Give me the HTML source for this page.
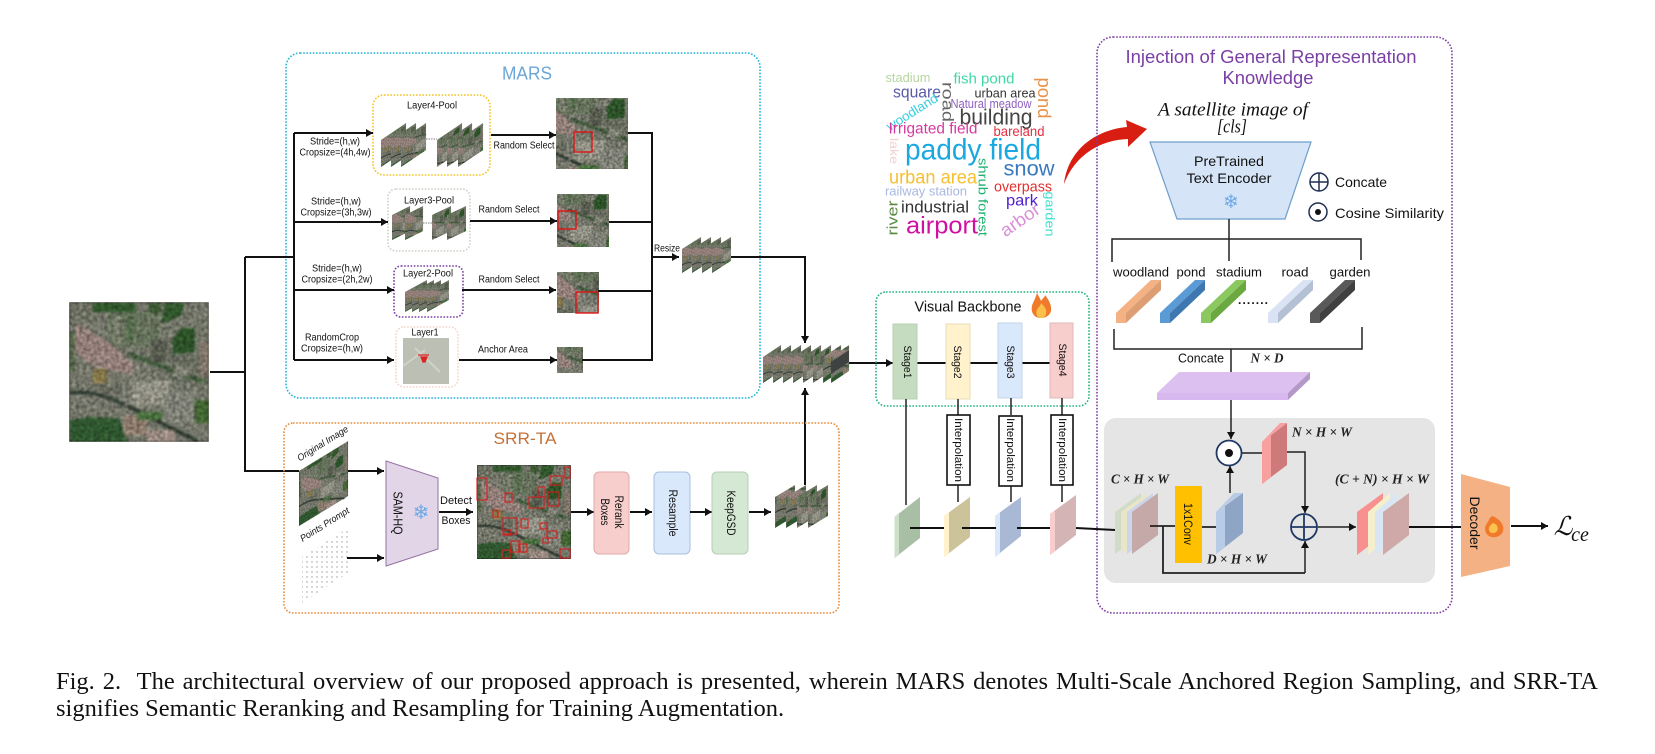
<!DOCTYPE html>
<html><head><meta charset="utf-8">
<style>
html,body{margin:0;padding:0;background:#fff;width:1655px;height:754px;overflow:hidden}
svg{position:absolute;left:0;top:0}
text{font-family:"Liberation Sans",sans-serif;text-anchor:middle;dominant-baseline:central;fill:#111}
.m{font-family:"Liberation Serif",serif;font-style:italic;font-weight:bold;fill:#222}
.l{stroke:#111;stroke-width:2;fill:none}
.t{stroke:#222;stroke-width:1.5;fill:none}
.d{fill:none;stroke-width:1.6;stroke-dasharray:1.6 1.6}
.a{marker-end:url(#a)}
#cap{position:absolute;left:56px;top:668px;width:1542px;font:24.5px/27px "Liberation Serif",serif;color:#111}
#cap div{white-space:nowrap}
#cap .j{white-space:normal;text-align:justify;text-align-last:justify}
</style></head><body>
<svg width="1655" height="754" viewBox="0 0 1655 754" xmlns="http://www.w3.org/2000/svg">
<defs>
<marker id="a" markerWidth="8" markerHeight="9" refX="7" refY="4" orient="auto" markerUnits="userSpaceOnUse"><path d="M0 0L7 4L0 8z" fill="#111"/></marker>
<filter id="n" x="0" y="0" width="1" height="1" color-interpolation-filters="sRGB"><feGaussianBlur stdDeviation="1" result="b"/><feTurbulence type="fractalNoise" baseFrequency=".28" numOctaves="2" seed="4"/><feColorMatrix type="matrix" values=".45 0 0 0 .23 .45 0 0 0 .23 .45 0 0 0 .23 0 0 0 0 1" result="t"/><feComposite in="b" in2="t" operator="arithmetic" k1="2" k2="0" k3="0" k4="0"/><feGaussianBlur stdDeviation=".45"/></filter>
<g id="s"><g filter="url(#n)">
<rect width="140" height="140" fill="#7f8274"/>
<rect x="40" y="10" width="50" height="35" fill="#6f7c64"/>
<rect x="100" y="50" width="40" height="30" fill="#737869"/>
<rect x="0" y="90" width="55" height="30" fill="#7f8174"/>
<rect x="63" y="79" width="38" height="24" fill="#a09f92"/>
<rect x="95" y="90" width="30" height="30" fill="#8b8d82"/>
<polygon points="8,21 44,43 66,64 63,73 24,64 4,49" fill="#a08a84"/>
<polygon points="0,0 24,0 30,20 8,20 0,30" fill="#787c6c"/>
<rect x="24" y="1" width="43" height="9" fill="#355f30"/>
<rect x="80" y="1" width="12" height="10" fill="#3f6035"/>
<polygon points="96,1 116,1 112,14 92,22" fill="#355f30"/>
<polygon points="112,26 126,26 126,50 104,52 103,38" fill="#315a2c"/>
<polygon points="1,118 20,115 50,116 58,140 1,140" fill="#345f34"/>
<rect x="126" y="98" width="14" height="23" fill="#4a7038"/>
<path d="M1 91C25 88 40 95 60 105L130 140" stroke="#2e3a30" stroke-width="3.5" fill="none"/>
<path d="M60 52L135 80" stroke="#4a6444" stroke-width="5" fill="none"/>
<path d="M68 60L55 110" stroke="#8a8a80" stroke-width="2.5" fill="none"/>
<rect x="55" y="113" width="23" height="20" fill="#9c8878"/>
<rect x="78" y="128" width="28" height="12" fill="#a8968c"/>
<rect x="24" y="67" width="14" height="14" fill="#8f7f4e"/>
<rect x="82" y="38" width="16" height="22" fill="#5f6355"/>
<rect x="130" y="40" width="10" height="35" fill="#8c8073"/>
<rect x="68" y="110" width="25" height="8" fill="#4f7a44"/>
<rect x="30" y="85" width="22" height="4" fill="#666a5c"/>
<rect x="105" y="65" width="16" height="9" fill="#8c8d80"/>
<rect x="0" y="30" width="6" height="40" fill="#5e7050"/>
<rect x="45" y="14" width="6" height="28" fill="#8c8f7e"/>
<rect x="58" y="14" width="6" height="24" fill="#5a7450"/>
</g></g>
<svg id="c1" width="140" height="140" viewBox="10 30 90 90" preserveAspectRatio="none"><use href="#s"/></svg>
<svg id="c2" width="140" height="140" viewBox="45 20 90 90" preserveAspectRatio="none"><use href="#s"/></svg>
<svg id="c3" width="140" height="140" viewBox="0 50 80 80" preserveAspectRatio="none"><use href="#s"/></svg>
<pattern id="dots" width="5" height="5" patternUnits="userSpaceOnUse"><circle cx="2" cy="2" r=".7" fill="#999"/></pattern>
<g id="flame"><path d="M0 25C-9 25-11 16-8 10C-6 6-5 3-4 0C-2 4-1 5 0 8C2 5 4 4 4 2C8 7 11 13 10 18C9 22 5 25 0 25Z" fill="#ee7a2a"/><path d="M0 25C-5 25-6 19-3 15C-1 13 0 11 0 10C3 13 6 16 5 20C5 23 3 25 0 25Z" fill="#fbc04a"/></g>
<g id="fl2"><path d="M-2-10C4-8 11-2 9 5C8 10 0 13-5 10C-10 7-10 0-6-4C-5-7-4-8-2-10Z" fill="#f0792a"/><path d="M-1-3C3-2 5 2 3 5C1 8-4 8-5 4C-6 1-3-1-1-3Z" fill="#fcc24f"/></g>
</defs>

<!-- MARS box -->
<rect x="286" y="53" width="474" height="345" rx="14" class="d" stroke="#22b3d6"/>
<text x="527" y="73" font-size="18.5" style="fill:#6ba6d6" textLength="50" lengthAdjust="spacingAndGlyphs">MARS</text>

<rect x="373" y="95" width="117" height="80" rx="11" class="d" stroke="#f3c423"/>
<text x="432" y="106" font-size="10" textLength="50" lengthAdjust="spacingAndGlyphs">Layer4-Pool</text>
<rect x="388" y="189" width="82" height="62" rx="8" class="d" stroke="#cfd2c4"/>
<text x="429" y="201" font-size="10" textLength="50" lengthAdjust="spacingAndGlyphs">Layer3-Pool</text>
<rect x="394" y="266" width="69" height="51" rx="7" class="d" stroke="#7b3fa0"/>
<text x="428" y="274" font-size="10" textLength="50" lengthAdjust="spacingAndGlyphs">Layer2-Pool</text>
<rect x="396" y="327" width="62" height="60" rx="8" class="d" stroke="#f2d6c8"/>
<text x="425" y="333" font-size="10" textLength="27" lengthAdjust="spacingAndGlyphs">Layer1</text>

<!-- Tree lines -->
<path d="M210 372H245M245 257V471H299M245 257H294M294 133V360" class="l"/>
<path d="M294 133H373" class="l a"/><path d="M294 222H388" class="l a"/><path d="M294 290H394" class="l a"/><path d="M294 360H394" class="l a"/>
<text x="335" y="142" font-size="10" textLength="50" lengthAdjust="spacingAndGlyphs">Stride=(h,w)</text>
<text x="335" y="153" font-size="10" textLength="71" lengthAdjust="spacingAndGlyphs">Cropsize=(4h,4w)</text>
<text x="336" y="202" font-size="10" textLength="50" lengthAdjust="spacingAndGlyphs">Stride=(h,w)</text>
<text x="336" y="213" font-size="10" textLength="71" lengthAdjust="spacingAndGlyphs">Cropsize=(3h,3w)</text>
<text x="337" y="269" font-size="10" textLength="50" lengthAdjust="spacingAndGlyphs">Stride=(h,w)</text>
<text x="337" y="280" font-size="10" textLength="71" lengthAdjust="spacingAndGlyphs">Cropsize=(2h,2w)</text>
<text x="332" y="338" font-size="10" textLength="54" lengthAdjust="spacingAndGlyphs">RandomCrop</text>
<text x="332" y="349" font-size="10" textLength="62" lengthAdjust="spacingAndGlyphs">Cropsize=(h,w)</text>

<!-- Layer4 stacks -->
<use href="#c1" transform="matrix(.179 -.121 0 .193 381 140)"/><use href="#c1" transform="matrix(.179 -.121 0 .193 391 140)"/><use href="#c1" transform="matrix(.179 -.121 0 .193 401 140)"/>
<path d="M426 139H437" stroke="#999" stroke-width="1.2" stroke-dasharray="1.5 1"/>
<use href="#c2" transform="matrix(.179 -.121 0 .193 437 140)"/><use href="#c2" transform="matrix(.179 -.121 0 .193 447 140)"/><use href="#c2" transform="matrix(.179 -.121 0 .193 458 140)"/>
<!-- Layer3 stacks -->
<use href="#c1" transform="matrix(.129 -.064 0 .179 392 215)"/><use href="#c1" transform="matrix(.129 -.064 0 .179 405 215)"/>
<path d="M423 223H432" stroke="#999" stroke-width="1.2" stroke-dasharray="1.5 1"/>
<use href="#c2" transform="matrix(.136 -.064 0 .179 432 215)"/><use href="#c2" transform="matrix(.136 -.064 0 .179 447 215)"/>
<!-- Layer2 stack -->
<use href="#c1" transform="matrix(.157 -.086 0 .143 405 292)"/><use href="#c1" transform="matrix(.157 -.086 0 .143 412 292)"/><use href="#c1" transform="matrix(.157 -.086 0 .143 419 292)"/><use href="#c1" transform="matrix(.157 -.086 0 .143 427 292)"/>
<!-- Layer1 -->
<rect x="403" y="338" width="46" height="46" fill="#bcc0b4"/>
<path d="M415 348L440 372M403 366L425 350" stroke="#cfd2c8" stroke-width="2"/>
<path d="M418 355H429M421 357H427L425 362H423Z" stroke="#d22" stroke-width="1.2" fill="#d22"/>

<!-- Outgoing arrows -->
<path d="M491 135H556" class="l a"/><path d="M470 221H557" class="l a"/><path d="M462 290H556" class="l a"/><path d="M459 360H557" class="l a"/>
<text x="524" y="146" font-size="10" textLength="61" lengthAdjust="spacingAndGlyphs">Random Select</text>
<text x="509" y="210" font-size="10" textLength="61" lengthAdjust="spacingAndGlyphs">Random Select</text>
<text x="509" y="280" font-size="10" textLength="61" lengthAdjust="spacingAndGlyphs">Random Select</text>
<text x="503" y="350" font-size="10" textLength="50" lengthAdjust="spacingAndGlyphs">Anchor Area</text>

<svg x="556" y="98" width="72" height="71" viewBox="40 25 90 90" preserveAspectRatio="none"><use href="#s"/></svg>
<rect x="574" y="132" width="18" height="20" fill="none" stroke="#e01515" stroke-width="1.4"/>
<svg x="557" y="194" width="52" height="53" viewBox="40 25 90 90" preserveAspectRatio="none"><use href="#s"/></svg>
<rect x="558" y="211" width="18" height="18" fill="none" stroke="#e01515" stroke-width="1.4"/>
<svg x="557" y="272" width="42" height="41" viewBox="30 30 60 60" preserveAspectRatio="none"><use href="#s"/></svg>
<rect x="576" y="292" width="22" height="21" fill="none" stroke="#e01515" stroke-width="1.4"/>
<svg x="557" y="347" width="26" height="26" viewBox="40 35 45 45" preserveAspectRatio="none"><use href="#s"/></svg>

<path d="M628 133H652M609 222H652M598 291H652M582 360H652M652 132V361" class="l"/>
<path d="M652 257H679" class="l a"/>
<text x="667" y="249" font-size="10" textLength="26" lengthAdjust="spacingAndGlyphs">Resize</text>
<use href="#c1" transform="matrix(.136 -.086 0 .171 682 249)"/><use href="#c1" transform="matrix(.136 -.086 0 .171 692 249)"/><use href="#c1" transform="matrix(.136 -.086 0 .171 702 249)"/><use href="#c1" transform="matrix(.136 -.086 0 .171 712 249)"/>
<path d="M731 257H805V343" class="l a"/>

<!-- Big input image -->
<svg x="69" y="302" width="140" height="140" viewBox="0 0 140 140"><use href="#s"/></svg>

<!-- Merged stack -->
<use href="#c1" transform="matrix(.129 -.086 0 .186 763 357)"/><use href="#c1" transform="matrix(.129 -.086 0 .186 773 357)"/><use href="#c1" transform="matrix(.129 -.086 0 .186 783 357)"/><use href="#c1" transform="matrix(.129 -.086 0 .186 793 357)"/><use href="#c2" transform="matrix(.129 -.086 0 .186 803 357)"/><use href="#c2" transform="matrix(.129 -.086 0 .186 813 357)"/><use href="#c3" transform="matrix(.129 -.086 0 .186 823 357)"/><use href="#c3" transform="matrix(.129 -.086 0 .186 831 357)"/>
<polygon points="831,362 849,350 849,362 831,374" fill="#3f4240"/>
<path d="M849 363H893" class="l a"/>
<path d="M805 485V388" class="l a"/>

<!-- SRR-TA -->
<rect x="284" y="423" width="555" height="190" rx="9" class="d" stroke="#e88b3c"/>
<text x="525" y="439" font-size="16.5" style="fill:#c4713a" textLength="63" lengthAdjust="spacingAndGlyphs">SRR-TA</text>
<use href="#s" transform="matrix(.35 -.214 0 .393 299 471)"/>
<text x="323" y="444" font-size="9.5" font-style="italic" transform="rotate(-32 323 444)" textLength="58" lengthAdjust="spacingAndGlyphs">Original Image</text>
<text x="325" y="525" font-size="9.5" font-style="italic" transform="rotate(-32 325 525)" textLength="56" lengthAdjust="spacingAndGlyphs">Points Prompt</text>
<polygon points="302,557 348,528 348,573 302,603" fill="url(#dots)"/>
<path d="M348 471H384" class="l a"/><path d="M347 558H384" class="l a"/>
<polygon points="386,461 438,478 438,549 386,566" fill="#e1d5e7" stroke="#9673a6" stroke-width="1"/>
<text x="398" y="513" font-size="13" transform="rotate(90 398 513)" textLength="43" lengthAdjust="spacingAndGlyphs">SAM-HQ</text>
<text x="421" y="512" font-size="20" style="font-family:'DejaVu Sans',sans-serif;fill:#6fa8e6">❄</text>
<path d="M439 512H473" class="l a"/>
<text x="456" y="501" font-size="11" textLength="32" lengthAdjust="spacingAndGlyphs">Detect</text>
<text x="456" y="521" font-size="11" textLength="29" lengthAdjust="spacingAndGlyphs">Boxes</text>
<svg x="477" y="465" width="94" height="94" viewBox="0 0 140 140"><use href="#s"/></svg>
<g fill="none" stroke="#d42020" stroke-width="1.1">
<rect x="477" y="478" width="10" height="22"/><rect x="505" y="493" width="7" height="9"/><rect x="529" y="497" width="15" height="11"/><rect x="548" y="492" width="11" height="14"/><rect x="538" y="487" width="7" height="10"/><rect x="550" y="476" width="12" height="9"/><rect x="565" y="467" width="5" height="11"/><rect x="503" y="518" width="14" height="16"/><rect x="521" y="519" width="7" height="9"/><rect x="503" y="530" width="8" height="5"/><rect x="540" y="523" width="7" height="6"/><rect x="547" y="531" width="10" height="7"/><rect x="543" y="538" width="5" height="5"/><rect x="511" y="541" width="9" height="11"/><rect x="519" y="544" width="8" height="8"/><rect x="502" y="550" width="8" height="8"/><rect x="560" y="549" width="10" height="9"/><rect x="493" y="510" width="5" height="7"/>
</g>
<path d="M571 512H594" class="l a"/>
<rect x="594" y="472" width="35" height="82" rx="5" fill="#f8cecc" stroke="#e0aaa8"/>
<text x="618" y="512" font-size="11.5" transform="rotate(90 618 512)" textLength="33" lengthAdjust="spacingAndGlyphs">Rerank</text>
<text x="604" y="512" font-size="11.5" transform="rotate(90 604 512)" textLength="27" lengthAdjust="spacingAndGlyphs">Boxes</text>
<path d="M630 512H652" class="l a"/>
<rect x="654" y="472" width="36" height="82" rx="5" fill="#dae8fc" stroke="#a9c0dc"/>
<text x="672" y="513" font-size="11.5" transform="rotate(90 672 513)" textLength="47" lengthAdjust="spacingAndGlyphs">Resample</text>
<path d="M690 512H712" class="l a"/>
<rect x="712" y="472" width="36" height="82" rx="5" fill="#d5e8d4" stroke="#b3d1b0"/>
<text x="730" y="513" font-size="11.5" transform="rotate(90 730 513)" textLength="45" lengthAdjust="spacingAndGlyphs">KeepGSD</text>
<path d="M749 512H771" class="l a"/>
<use href="#c3" transform="matrix(.143 -.086 0 .221 775 497)"/><use href="#c3" transform="matrix(.143 -.086 0 .221 786 497)"/><use href="#c2" transform="matrix(.143 -.086 0 .221 797 497)"/><use href="#c2" transform="matrix(.143 -.086 0 .221 808 497)"/>

<!-- Word cloud -->
<g>
<text x="908" y="78" font-size="12.5" style="fill:#b5d6a0" textLength="45" lengthAdjust="spacingAndGlyphs">stadium</text>
<text x="984" y="79" font-size="15" style="fill:#3fd8a8" textLength="61" lengthAdjust="spacingAndGlyphs">fish pond</text>
<text x="917" y="92" font-size="17" style="fill:#5b5ba8" textLength="48" lengthAdjust="spacingAndGlyphs">square</text>
<text x="1005" y="93" font-size="13" style="fill:#333" textLength="61" lengthAdjust="spacingAndGlyphs">urban area</text>
<text x="1044" y="98" font-size="18" style="fill:#e8924a" transform="rotate(90 1044 98)" textLength="41" lengthAdjust="spacingAndGlyphs">pond</text>
<text x="947" y="102" font-size="16" style="fill:#666" transform="rotate(90 947 102)" textLength="40" lengthAdjust="spacingAndGlyphs">road</text>
<text x="912" y="112" font-size="13" style="fill:#33cfe0" transform="rotate(-32 912 112)" textLength="58" lengthAdjust="spacingAndGlyphs">woodland</text>
<text x="991" y="104" font-size="12.5" style="fill:#8e5fc0" textLength="81" lengthAdjust="spacingAndGlyphs">Natural meadow</text>
<text x="996" y="117" font-size="22" style="fill:#444" textLength="73" lengthAdjust="spacingAndGlyphs">building</text>
<text x="933" y="129" font-size="15.5" style="fill:#d63aa0" textLength="89" lengthAdjust="spacingAndGlyphs">Irrigated field</text>
<text x="1019" y="131" font-size="14" style="fill:#e03040" textLength="51" lengthAdjust="spacingAndGlyphs">bareland</text>
<text x="894" y="151" font-size="12" style="fill:#f0d0d0" transform="rotate(90 894 151)" textLength="26" lengthAdjust="spacingAndGlyphs">lake</text>
<text x="973" y="150" font-size="30" style="fill:#1aa8e0" textLength="136" lengthAdjust="spacingAndGlyphs">paddy field</text>
<text x="983" y="197" font-size="13" style="fill:#20b070" transform="rotate(90 983 197)" textLength="78" lengthAdjust="spacingAndGlyphs">shrub forest</text>
<text x="1029" y="169" font-size="21" style="fill:#3a78c0" textLength="51" lengthAdjust="spacingAndGlyphs">snow</text>
<text x="933" y="178" font-size="19" style="fill:#f5c030" textLength="88" lengthAdjust="spacingAndGlyphs">urban area</text>
<text x="1023" y="187" font-size="15" style="fill:#e03030" textLength="58" lengthAdjust="spacingAndGlyphs">overpass</text>
<text x="926" y="191" font-size="13" style="fill:#a8b8e0" textLength="82" lengthAdjust="spacingAndGlyphs">railway station</text>
<text x="1022" y="201" font-size="16" style="fill:#5020d0" textLength="32" lengthAdjust="spacingAndGlyphs">park</text>
<text x="1050" y="214" font-size="13" style="fill:#40e0d0" transform="rotate(90 1050 214)" textLength="45" lengthAdjust="spacingAndGlyphs">garden</text>
<text x="935" y="207" font-size="17" style="fill:#333" textLength="68" lengthAdjust="spacingAndGlyphs">industrial</text>
<text x="893" y="218" font-size="15" style="fill:#5a8a40" transform="rotate(-90 893 218)" textLength="35" lengthAdjust="spacingAndGlyphs">river</text>
<text x="942" y="226" font-size="24" style="fill:#d010a0" textLength="72" lengthAdjust="spacingAndGlyphs">airport</text>
<text x="1020" y="220" font-size="18" style="fill:#d890d8" transform="rotate(-35 1020 220)" textLength="44" lengthAdjust="spacingAndGlyphs">arbor</text>
</g>
<path d="M1064 184C1068 150 1095 130 1127 127L1126 120L1147 129L1128 147L1128 139C1100 140 1075 155 1064 184Z" fill="#d81e12"/>

<!-- Visual backbone -->
<rect x="876" y="292" width="213" height="114" rx="10" class="d" stroke="#1fb37a"/>
<text x="968" y="307" font-size="15" textLength="107" lengthAdjust="spacingAndGlyphs">Visual Backbone</text>
<use href="#flame" transform="translate(1041 293)"/>
<path d="M917 363H1050" class="l"/>
<rect x="893" y="324" width="24" height="75" fill="#c5dcc0" stroke="#b8cfb2"/>
<rect x="946" y="324" width="24" height="75" fill="#fff2cc" stroke="#e8dcb5"/>
<rect x="998" y="323" width="24" height="75" fill="#dae8fc" stroke="#c3d3ea"/>
<rect x="1050" y="323" width="23" height="75" fill="#f8cecc" stroke="#e0b8b6"/>
<text x="907" y="362" font-size="11" transform="rotate(90 907 362)" textLength="33" lengthAdjust="spacingAndGlyphs">Stage1</text>
<text x="957" y="362" font-size="11" transform="rotate(90 957 362)" textLength="33" lengthAdjust="spacingAndGlyphs">Stage2</text>
<text x="1010" y="362" font-size="11" transform="rotate(90 1010 362)" textLength="33" lengthAdjust="spacingAndGlyphs">Stage3</text>
<text x="1062" y="360" font-size="11" transform="rotate(90 1062 360)" textLength="33" lengthAdjust="spacingAndGlyphs">Stage4</text>

<path d="M906 399V505M958 399V415M958 485V502M1011 398V415M1011 485V502M1062 398V415M1062 485V502" class="t"/>
<rect x="947" y="415" width="23" height="70" fill="#fff" stroke="#111" stroke-width="1.6"/>
<rect x="999" y="416" width="23" height="70" fill="#fff" stroke="#111" stroke-width="1.6"/>
<rect x="1051" y="415" width="22" height="70" fill="#fff" stroke="#111" stroke-width="1.6"/>
<text x="958" y="450" font-size="11" transform="rotate(90 958 450)" textLength="64" lengthAdjust="spacingAndGlyphs">Interpolation</text>
<text x="1010" y="450" font-size="11" transform="rotate(90 1010 450)" textLength="64" lengthAdjust="spacingAndGlyphs">Interpolation</text>
<text x="1062" y="450" font-size="11" transform="rotate(90 1062 450)" textLength="64" lengthAdjust="spacingAndGlyphs">Interpolation</text>

<!-- Injection box -->
<rect x="1097" y="37" width="355" height="576" rx="16" class="d" stroke="#7b3fa0"/>
<text x="1271" y="57" font-size="18" style="fill:#7a3fa5" textLength="291" lengthAdjust="spacingAndGlyphs">Injection of General Representation</text>
<text x="1268" y="78" font-size="18" style="fill:#7a3fa5" textLength="91" lengthAdjust="spacingAndGlyphs">Knowledge</text>
<text x="1233" y="110" font-size="19" style="font-family:'Liberation Serif',serif;font-style:italic" textLength="150" lengthAdjust="spacingAndGlyphs">A satellite image of</text>
<text x="1232" y="127" font-size="19" style="font-family:'Liberation Serif',serif;font-style:italic" textLength="30" lengthAdjust="spacingAndGlyphs">[cls]</text>
<polygon points="1150,142 1311,142 1285,219 1177,219" fill="#d5e5f7" stroke="#6f9fc9" stroke-width="1.2"/>
<text x="1229" y="161" font-size="14" textLength="70" lengthAdjust="spacingAndGlyphs">PreTrained</text>
<text x="1229" y="178" font-size="14" textLength="85" lengthAdjust="spacingAndGlyphs">Text Encoder</text>
<text x="1231" y="202" font-size="19" style="font-family:'DejaVu Sans',sans-serif;fill:#6fa8e6">❄</text>
<circle cx="1319" cy="182" r="9" fill="none" stroke="#1f2f50" stroke-width="1.5"/><path d="M1310 182H1328M1319 173V191" stroke="#1f2f50" stroke-width="1.5"/>
<circle cx="1318" cy="212" r="9" fill="none" stroke="#1f2f50" stroke-width="1.5"/><circle cx="1318" cy="212" r="3" fill="#111"/>
<text x="1335" y="182" font-size="14" style="text-anchor:start" textLength="52" lengthAdjust="spacingAndGlyphs">Concate</text>
<text x="1335" y="213" font-size="14" style="text-anchor:start" textLength="109" lengthAdjust="spacingAndGlyphs">Cosine Similarity</text>
<path d="M1229 219V261M1112 262V239H1361V260" class="t"/>
<text x="1141" y="272" font-size="13" textLength="56" lengthAdjust="spacingAndGlyphs">woodland</text>
<text x="1191" y="272" font-size="13" textLength="29" lengthAdjust="spacingAndGlyphs">pond</text>
<text x="1239" y="272" font-size="13" textLength="46" lengthAdjust="spacingAndGlyphs">stadium</text>
<text x="1295" y="272" font-size="13" textLength="27" lengthAdjust="spacingAndGlyphs">road</text>
<text x="1350" y="272" font-size="13" textLength="41" lengthAdjust="spacingAndGlyphs">garden</text>
<g transform="translate(1116 280)"><polygon points="0,33 35,0 45,0 10,33 10,43 0,43" fill="#f4b183"/><polygon points="10,33 45,0 45,10 10,43" fill="#dc9e72"/></g>
<g transform="translate(1160 280)"><polygon points="0,33 35,0 45,0 10,33 10,43 0,43" fill="#5b9bd5"/><polygon points="10,33 45,0 45,10 10,43" fill="#3f78b0"/></g>
<g transform="translate(1201 280)"><polygon points="0,33 35,0 45,0 10,33 10,43 0,43" fill="#8cc860"/><polygon points="10,33 45,0 45,10 10,43" fill="#6aa840"/></g>
<g transform="translate(1268 280)"><polygon points="0,33 35,0 45,0 10,33 10,43 0,43" fill="#dae3f3"/><polygon points="10,33 45,0 45,10 10,43" fill="#b4c0d4"/></g>
<g transform="translate(1310 280)"><polygon points="0,33 35,0 45,0 10,33 10,43 0,43" fill="#595959"/><polygon points="10,33 45,0 45,10 10,43" fill="#404040"/></g>
<text x="1253" y="300" font-size="12" style="font-weight:bold" textLength="30">.......</text>
<path d="M1114 329V349H1362V327M1231 349V373" class="t"/>
<text x="1201" y="358" font-size="13" textLength="46" lengthAdjust="spacingAndGlyphs">Concate</text>
<text x="1267" y="359" font-size="14" class="m" textLength="33" lengthAdjust="spacingAndGlyphs">N × D</text>
<polygon points="1157,393 1288,393 1310,372 1179,372" fill="#dcc0f0"/>
<rect x="1157" y="393" width="131" height="7" fill="#d8b8ee"/>
<polygon points="1288,393 1310,372 1310,379 1288,400" fill="#b498c8"/>

<!-- Gray box -->
<rect x="1104" y="418" width="331" height="165" rx="12" fill="#e5e5e5"/>
<path d="M1231 400V439" class="t a"/>
<circle cx="1229" cy="453" r="12.5" fill="#fff" stroke="#1f3864" stroke-width="1.8"/><circle cx="1229" cy="453" r="4" fill="#111"/>
<path d="M1242 453H1262M1287 452H1305V513" class="t a"/>
<polygon points="1262,442 1287,423 1287,465 1262,484" fill="#cf7a7a"/><polygon points="1262,442 1271,435 1271,477 1262,484" fill="#f8a0a0"/><polygon points="1262,442 1280,423 1287,423 1271,435" fill="#f8a0a0"/>
<text x="1322" y="433" class="m" font-size="14" textLength="60" lengthAdjust="spacingAndGlyphs">N × H × W</text>

<!-- Feature maps -->
<polygon points="894.5,517 920,497 920,538 894.5,558" fill="#a9bfa5"/><polygon points="894.5,517 899,513 899,554 894.5,558" fill="#cfe0ca"/>
<polygon points="944,516 970,497 970,537 944,557" fill="#cdc39b"/><polygon points="944,516 949,512 949,553 944,557" fill="#fff2cc"/>
<polygon points="995,516 1021,497 1021,536 995,557" fill="#a8b8d5"/><polygon points="995,516 1000,512 1000,553 995,557" fill="#dae8fc"/>
<polygon points="1050,514 1076,495 1076,535 1050,555" fill="#d4b4b4"/><polygon points="1050,514 1055,510 1055,551 1050,555" fill="#f8cecc"/>
<path d="M910 528H944M962 528H996M1017 528H1050M1076 528L1115 530" class="l"/>

<!-- C x H x W -->
<text x="1140" y="480" class="m" font-size="14" textLength="58" lengthAdjust="spacingAndGlyphs">C × H × W</text>
<polygon points="1115,512 1141,493 1141,535 1115,554" fill="#d0dcc8"/>
<polygon points="1121,512 1147,493 1147,535 1121,554" fill="#e8e5c8"/>
<polygon points="1127,512 1153,493 1153,535 1127,554" fill="#ccd5ea"/>
<polygon points="1132,512 1158,493 1158,535 1132,554" fill="#c5a8a8"/>
<path d="M1150 526H1175M1202 527H1216M1163 526V573H1305" class="t" style="stroke-width:1.8"/>
<path d="M1305 573V541" class="t a"/>
<rect x="1175" y="486" width="27" height="77" fill="#ffc000"/>
<text x="1188" y="524" font-size="12" transform="rotate(90 1188 524)" textLength="42" lengthAdjust="spacingAndGlyphs">1x1Conv</text>
<polygon points="1216,512 1243,493 1243,533 1216,554" fill="#8fa5c5"/><polygon points="1216,512 1225,505 1225,547 1216,554" fill="#b8cce8"/><polygon points="1216,512 1234,493 1243,493 1225,505" fill="#b8cce8"/>
<path d="M1230 493V466" class="t a"/>
<text x="1237" y="560" class="m" font-size="14" textLength="60" lengthAdjust="spacingAndGlyphs">D × H × W</text>
<circle cx="1304" cy="527" r="13" fill="none" stroke="#1f3864" stroke-width="1.8"/><path d="M1291 527H1317M1304 514V540" stroke="#1f3864" stroke-width="1.8"/>
<path d="M1318 527H1356" class="t a"/>
<text x="1382" y="480" class="m" font-size="14" textLength="94" lengthAdjust="spacingAndGlyphs">(C + N) × H × W</text>
<polygon points="1357,512 1383,493 1383,535 1357,555" fill="#f8908f"/>
<polygon points="1368,512 1390,493 1390,535 1368,555" fill="#f5f0cc"/>
<polygon points="1375,512 1397,493 1397,535 1375,555" fill="#dbe6f5"/>
<polygon points="1383,512 1409,493 1409,535 1383,555" fill="#cfa8a8"/>
<path d="M1409 527H1461" class="l"/>

<!-- Decoder -->
<polygon points="1461,474 1510,487 1510,566 1461,577" fill="#f4b183"/>
<text x="1475" y="523" font-size="14" transform="rotate(90 1475 523)" textLength="53" lengthAdjust="spacingAndGlyphs">Decoder</text>
<use href="#fl2" transform="translate(1494 526)"/>
<path d="M1511 526H1548" class="l a"/>
<text x="1563" y="527" font-size="26" style="font-family:'DejaVu Serif','Liberation Serif',serif;font-style:italic">ℒ</text>
<text x="1580" y="535" font-size="20" style="font-family:'Liberation Serif',serif;font-style:italic">ce</text>
</svg>

<div id="cap">
<div class="j">Fig. 2.&nbsp; The architectural overview of our proposed approach is presented, wherein MARS denotes Multi-Scale Anchored Region Sampling, and SRR-TA</div>
<div>signifies Semantic Reranking and Resampling for Training Augmentation.</div>
</div>
</body></html>
